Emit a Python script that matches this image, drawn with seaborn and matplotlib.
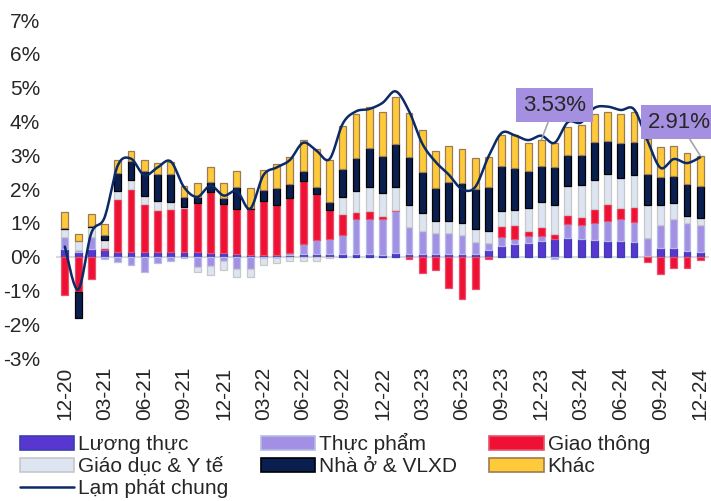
import numpy as np
import pandas as pd
import seaborn as sns
import matplotlib.pyplot as plt
from matplotlib.patches import Patch
from matplotlib.lines import Line2D

# months 12-20 .. 12-24
months = list(pd.period_range("2020-12", "2024-12", freq="M").strftime("%m-%y"))
tick_labels = months[::3]

# contribution to CPI (percentage points)
luong_thuc = [0.24, 0.15, 0.24, 0.20, 0.14, 0.14, 0.14, 0.13, 0.15, 0.13,
              0.13, 0.10, 0.12, 0.07, 0.04, 0.05, 0.05, 0.04, 0.07, 0.07,
              0.07, 0.07, 0.07, 0.07, 0.05, 0.10, 0.08, 0.08, 0.08, 0.08,
              0.08, 0.08, 0.20, 0.33, 0.37, 0.42, 0.47, 0.53, 0.56, 0.54,
              0.51, 0.47, 0.47, 0.45, 0.02, 0.25, 0.25, 0.18, 0.13]
thuc_pham = [0.33, 0.05, 0.33, -0.08, -0.16, -0.25, -0.45, -0.18, -0.12, -0.05,
             -0.30, -0.28, -0.13, -0.37, -0.36, -0.05, -0.03, 0.06, 0.30, 0.42,
             0.47, 0.56, 1.04, 1.04, 1.06, 1.24, 0.81, 0.67, 0.61, 0.61,
             0.57, 0.37, 0.22, 0.25, 0.17, 0.19, 0.14, -0.08, 0.42, 0.39,
             0.49, 0.58, 0.66, 0.59, 0.54, 0.69, 0.86, 0.81, 0.81]
giao_thong = [-1.14, -1.05, -0.67, 0.05, 1.58, 1.87, 1.41, 1.26, 1.25, 1.30,
              1.45, 1.82, 1.43, 1.33, 1.38, 1.60, 1.48, 1.63, 1.87, 1.37,
              0.84, 0.64, 0.20, 0.25, 0.10, 0.04, -0.08, -0.49, -0.39, -0.92,
              -1.24, -0.95, -0.06, 0.32, 0.39, 0.16, 0.28, 0.15, 0.25, 0.25,
              0.42, 0.52, 0.30, 0.42, -0.16, -0.52, -0.33, -0.33, -0.10]
giao_duc_y_te = [0.25, 0.28, 0.30, 0.24, 0.23, 0.26, 0.25, 0.25, 0.23, 0.03,
                 -0.15, -0.25, -0.25, -0.22, -0.24, -0.18, -0.14, -0.13, -0.13, -0.13,
                 -0.05, 0.50, 0.62, 0.69, 0.67, 0.67, 0.64, 0.53, 0.37, 0.37,
                 0.34, 0.36, 0.33, 0.46, 0.44, 0.66, 0.74, 0.84, 0.86, 0.94,
                 0.86, 0.89, 0.89, 0.96, 0.96, 0.59, 0.49, 0.22, 0.20]
nha_o_vlxd = [0.02, -0.76, 0.05, 0.16, 0.54, 0.56, 0.74, 0.82, 0.82, 0.31,
              0.18, 0.30, 0.20, 0.67, 0.02, 0.32, 0.49, 0.41, 0.30, 0.21,
              0.25, 0.83, 1.00, 1.18, 1.11, 1.28, 1.43, 1.24, 0.97, 1.16,
              1.18, 1.18, 1.30, 1.33, 1.26, 1.11, 1.04, 1.14, 0.92, 0.89,
              1.11, 0.97, 1.04, 0.96, 0.92, 0.82, 0.79, 0.95, 0.94]
khac = [0.47, 0.20, 0.33, 0.33, 0.36, 0.30, 0.33, 0.32, 0.36, 0.32,
        0.41, 0.42, 0.44, 0.46, 0.59, 0.61, 0.72, 0.82, 0.91, 1.13,
        1.22, 1.26, 1.30, 1.20, 1.30, 1.40, 1.28, 1.22, 1.10, 1.06,
        1.02, 0.94, 0.90, 0.92, 0.96, 0.83, 0.79, 0.69, 0.84, 0.89,
        0.84, 0.86, 0.87, 0.89, 1.04, 0.89, 0.89, 0.91, 0.91]
lam_phat = [0.30, -0.97, 0.70, 1.16, 2.70, 2.90, 2.41, 2.64, 2.82, 2.06,
            1.77, 2.10, 1.81, 1.94, 1.42, 2.41, 2.64, 2.86, 3.37, 3.14,
            2.89, 3.94, 4.30, 4.37, 4.55, 4.89, 4.31, 3.35, 2.81, 2.43,
            2.00, 2.06, 2.96, 3.66, 3.59, 3.45, 3.58, 3.37, 3.98, 3.97,
            4.40, 4.44, 4.34, 4.36, 3.45, 2.63, 2.89, 2.77, 2.94]

series = [
    ("Lương thực", luong_thuc, "#5836d0", "#3b3fb0"),
    ("Thực phẩm", thuc_pham, "#a390e4", "#b4bde6"),
    ("Giao thông", giao_thong, "#ee1133", "#e8506e"),
    ("Giáo dục & Y tế", giao_duc_y_te, "#dde4f2", "#c8c8c8"),
    ("Nhà ở & VLXD", nha_o_vlxd, "#0a1f4f", "#000000"),
    ("Khác", khac, "#ffca3a", "#9b7b55"),
]
line_color = "#0b2a66"


def smooth_line(y, steps=16):
    # Excel-like smoothed line (cubic bezier through the points)
    y = np.asarray(y, float)
    x = np.arange(len(y), dtype=float)
    px, py = np.r_[x[0], x, x[-1]], np.r_[y[0], y, y[-1]]
    t = np.linspace(0, 1, steps, endpoint=False)
    b = [(1 - t) ** 3, 3 * (1 - t) ** 2 * t, 3 * (1 - t) * t ** 2, t ** 3]
    xs, ys = [], []
    for i in range(1, len(px) - 2):
        cx = [px[i], px[i] + (px[i + 1] - px[i - 1]) / 6,
              px[i + 1] - (px[i + 2] - px[i]) / 6, px[i + 1]]
        cy = [py[i], py[i] + (py[i + 1] - py[i - 1]) / 6,
              py[i + 1] - (py[i + 2] - py[i]) / 6, py[i + 1]]
        xs.append(sum(bi * c for bi, c in zip(b, cx)))
        ys.append(sum(bi * c for bi, c in zip(b, cy)))
    xs.append([x[-1]])
    ys.append([y[-1]])
    return np.concatenate(xs), np.concatenate(ys)


sns.set_style("white")
plt.rcParams["font.family"] = ["Liberation Sans", "DejaVu Sans"]

fig = plt.figure(figsize=(7.11, 5.01), dpi=100)
ax = fig.add_axes([0.080, 0.285, 0.916, 0.675])

n = len(months)
pos_base = np.zeros(n)
neg_base = np.zeros(n)
for name, vals, fc, ec in series:
    vals = np.asarray(vals, float)
    base = np.where(vals >= 0, pos_base, neg_base)
    keep = vals != 0
    df = pd.DataFrame({"month": np.array(months)[keep], "value": vals[keep]})
    sns.barplot(data=df, x="month", y="value", order=months, color=fc,
                saturation=1, errorbar=None, width=0.52, bottom=base[keep],
                edgecolor=ec, linewidth=0.9, ax=ax, zorder=2)
    pos_base += np.clip(vals, 0, None)
    neg_base += np.clip(vals, None, 0)

xs, ys = smooth_line(lam_phat)
sns.lineplot(x=xs, y=ys, sort=False, estimator=None, color=line_color,
             linewidth=1.8, ax=ax, zorder=3)

ax.set_xlim(-0.6, n - 0.4)
ax.set_ylim(-3, 7)
ax.set_yticks(range(-3, 8))
ax.set_yticklabels([f"{v}%" for v in range(-3, 8)])
ax.tick_params(axis="y", length=0, pad=12, labelsize=15)
ax.set_xlabel("")
ax.set_ylabel("")

# category axis sits at zero, labels at the bottom
for s in ["top", "right", "left"]:
    ax.spines[s].set_visible(False)
ax.spines["bottom"].set_position(("data", 0))
ax.spines["bottom"].set_color("#d9d9d9")
ax.spines["bottom"].set_linewidth(1.5)
ax.spines["bottom"].set_zorder(1)
ax.set_xticks(range(0, n, 3))
ax.set_xticklabels([])
ax.set_xticks(np.arange(-0.5, n, 3), minor=True)
ax.tick_params(axis="x", which="major", length=0)
ax.tick_params(axis="x", which="minor", length=5, width=1.5, color="#d9d9d9")

sec = ax.secondary_xaxis("bottom")
sec.set_xticks(range(0, n, 3))
sec.set_xticklabels(tick_labels, rotation=90)
sec.tick_params(length=0, pad=6, labelsize=15)
sec.spines["bottom"].set_visible(False)

# call-out boxes
for idx, text, pos in [(36, "3.53%", (37.0, 4.48)), (48, "2.91%", (46.4, 3.98))]:
    ax.annotate(text, xy=(idx, pos_base[idx]), xytext=pos, ha="center", va="center",
                fontsize=16, zorder=5, annotation_clip=False,
                bbox=dict(boxstyle="square,pad=0.3", fc="#a48fe0", ec="none"),
                arrowprops=dict(arrowstyle="-", color="#a6a6a6", lw=1.2,
                                shrinkA=0, shrinkB=0))

patches = {name: Patch(facecolor=fc, edgecolor=ec, linewidth=1.2)
           for name, _, fc, ec in series}
line_handle = Line2D([], [], color=line_color, linewidth=1.8)
order = ["Lương thực", "Giáo dục & Y tế", None, "Thực phẩm", "Nhà ở & VLXD",
         "Giao thông", "Khác"]
handles = [patches[k] if k else line_handle for k in order]
labels = [k if k else "Lạm phát chung" for k in order]
fig.legend(handles, labels, ncol=3, loc="upper left", bbox_to_anchor=(0.028, 0.135),
           frameon=False, fontsize=15, handlelength=2.6, handleheight=0.65,
           handletextpad=0.2, labelspacing=0.12, columnspacing=1.55,
           borderpad=0, borderaxespad=0)

fig.savefig("out.png", dpi=100)
